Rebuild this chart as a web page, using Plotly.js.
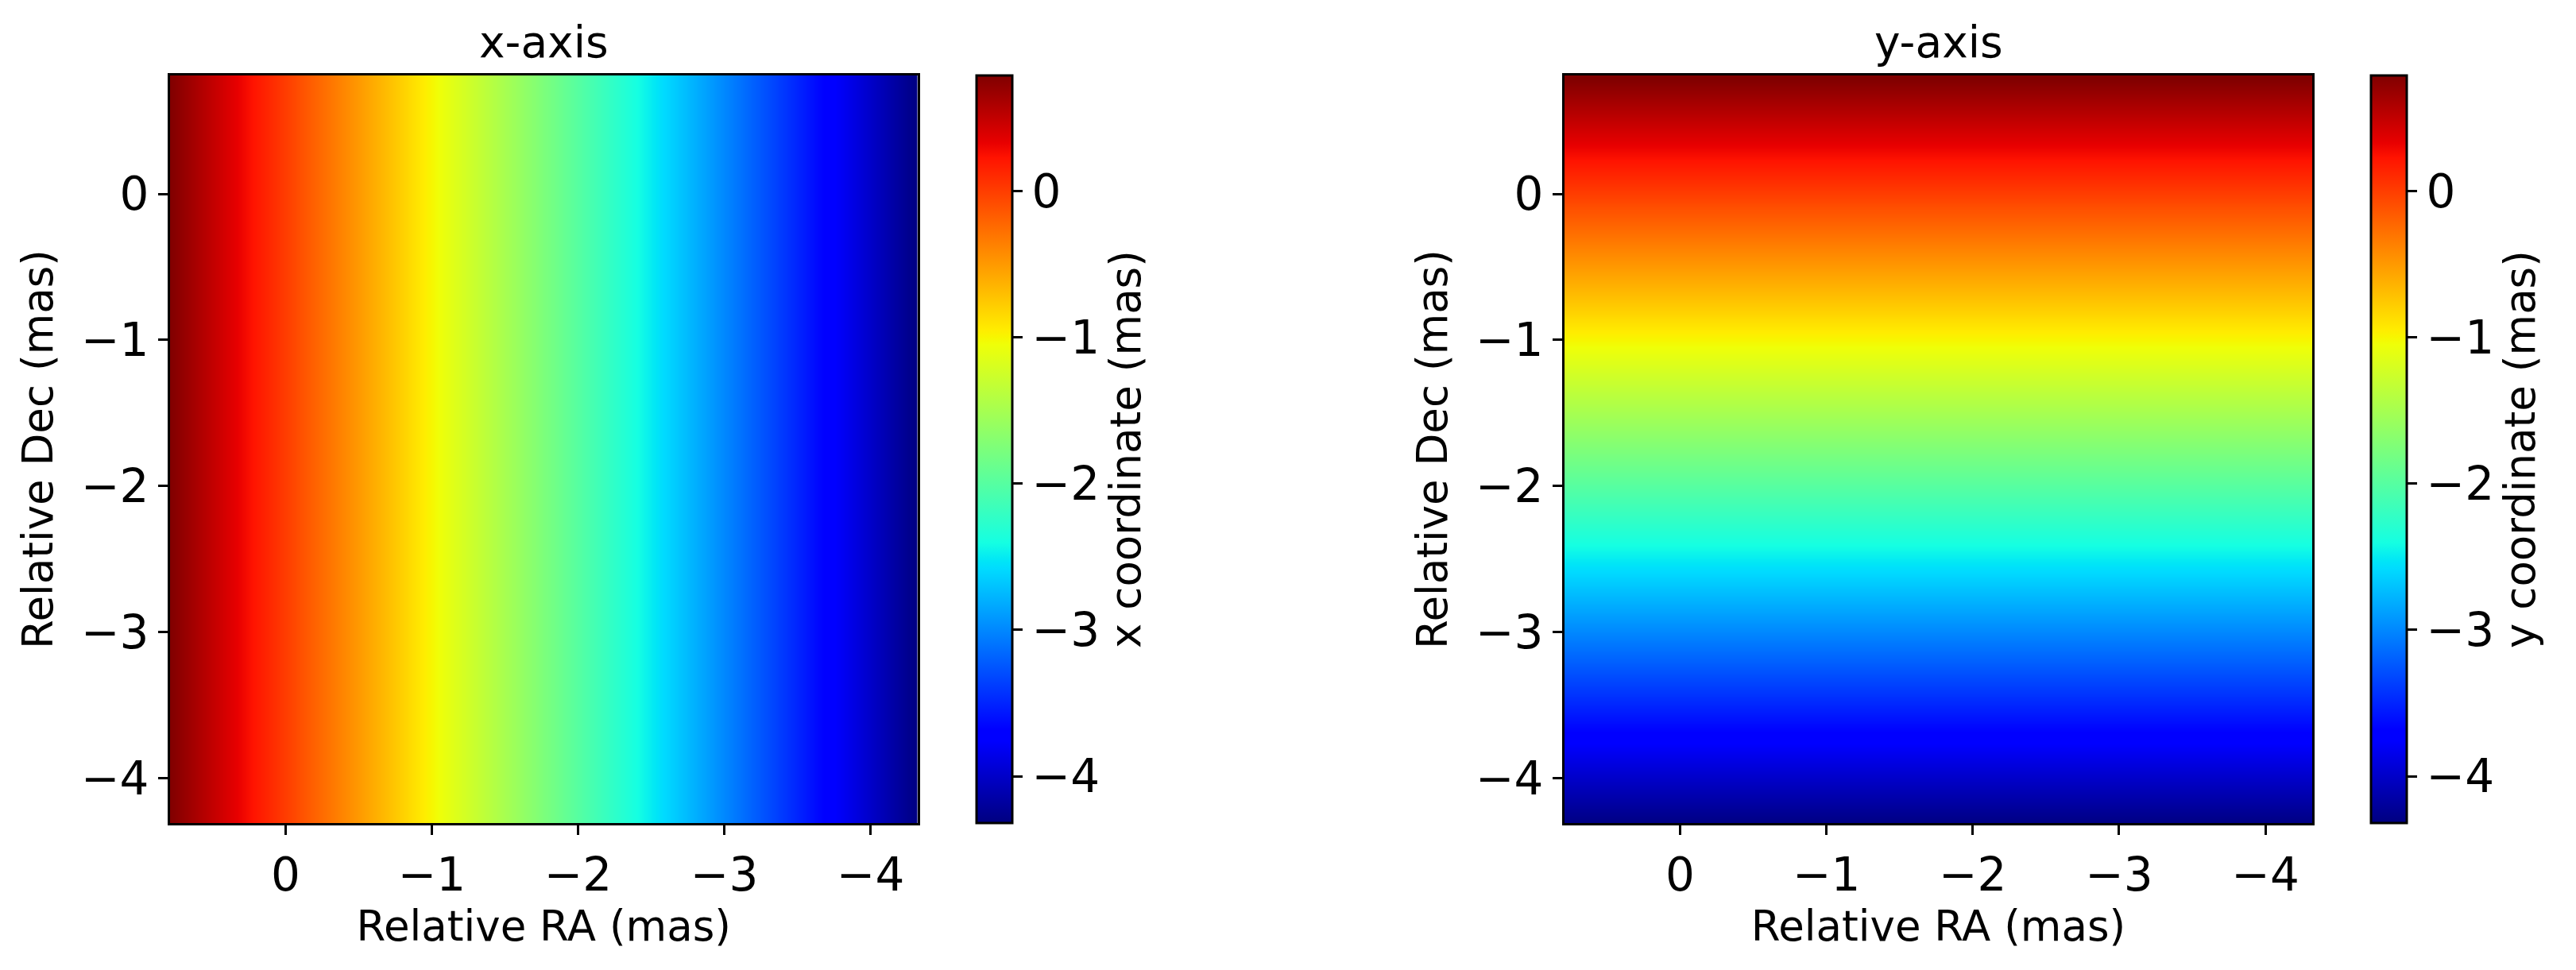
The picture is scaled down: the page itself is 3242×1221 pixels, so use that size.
<!DOCTYPE html>
<html>
<head>
<meta charset="utf-8">
<script src="https://cdn.plot.ly/plotly-3.0.1.min.js"></script>
<style>html,body{margin:0;padding:0;background:#fff;}#chart{width:3242px;height:1221px;}</style>
</head>
<body>
<div id="chart"></div>
<script>
// Pixel-centre coordinates of the image grid (mas)
const raPix  = [0.8, 0.5, 0.2, -0.1, -0.4, -0.7, -1.0, -1.3, -1.6, -1.9, -2.2, -2.5, -2.8, -3.1, -3.4, -3.7, -4.0, -4.3];
const decPix = [-4.3, -4.0, -3.7, -3.4, -3.1, -2.8, -2.5, -2.2, -1.9, -1.6, -1.3, -1.0, -0.7, -0.4, -0.1, 0.2, 0.5, 0.8];
const panelTitles = ['x-axis', 'y-axis'];
const cbarTitles = ['x coordinate (mas)', 'y coordinate (mas)'];
const xTitle = 'Relative RA (mas)';
const yTitle = 'Relative Dec (mas)';
const tickVals = [0, -1, -2, -3, -4];

// x-coordinate map and y-coordinate map built from the grid coordinates
const zX = decPix.map(() => raPix.slice());
const zY = decPix.map(d => raPix.map(() => d));

// matplotlib "jet" colormap
const jet = {
  r: [[0,0],[0.35,0],[0.66,1],[0.89,1],[1,0.5]],
  g: [[0,0],[0.125,0],[0.375,1],[0.64,1],[0.91,0],[1,0]],
  b: [[0,0.5],[0.11,1],[0.34,1],[0.65,0],[1,0]]
};
function chan(seg, t) {
  for (let i = 1; i < seg.length; i++) {
    if (t <= seg[i][0]) {
      const [t0, v0] = seg[i-1], [t1, v1] = seg[i];
      return v0 + (v1 - v0) * (t - t0) / (t1 - t0);
    }
  }
  return seg[seg.length-1][1];
}
const stops = [0,0.11,0.125,0.34,0.35,0.375,0.64,0.65,0.66,0.89,0.91,1];
const jetScale = stops.map(t => [t, 'rgb(' + [jet.r, jet.g, jet.b].map(s => Math.round(255 * chan(s, t))).join(',') + ')']);

const W = 3242, H = 1221;
const mL = 214, mR = 212, mT = 95, mB = 185;
const PW = W - mL - mR;
const font = 'DejaVu Sans';
const zmin = -4.32, zmax = 0.79;

function cbar(xpx, title) {
  return {
    x: (xpx - mL) / PW, xanchor: 'left', xpad: 0,
    y: 0, yanchor: 'bottom', len: 1, lenmode: 'fraction', ypad: 0,
    thickness: 45, thicknessmode: 'pixels',
    outlinewidth: 3, outlinecolor: '#000',
    ticks: 'outside', ticklen: 12, tickwidth: 3, tickcolor: '#000',
    tickmode: 'array', tickvals: tickVals,
    tickfont: {family: font, size: 58, color: '#000'},
    title: {text: title, side: 'right', font: {family: font, size: 53, color: '#000'}}
  };
}

const traces = [
  {type: 'heatmap', x: raPix, y: decPix, z: zX, xaxis: 'x', yaxis: 'y',
   colorscale: jetScale, zmin: zmin, zmax: zmax, zsmooth: 'best', hoverinfo: 'skip',
   colorbar: cbar(1228.5, cbarTitles[0])},
  {type: 'heatmap', x: raPix, y: decPix, z: zY, xaxis: 'x2', yaxis: 'y2',
   colorscale: jetScale, zmin: zmin, zmax: zmax, zsmooth: 'best', hoverinfo: 'skip',
   colorbar: cbar(2983.5, cbarTitles[1])}
];

function xa(d) {
  return {
    domain: d, range: [0.79, -4.32], autorange: false,
    showline: true, mirror: true, linewidth: 3, linecolor: '#000',
    ticks: 'outside', ticklen: 12, tickwidth: 3, tickcolor: '#000',
    tickmode: 'array', tickvals: tickVals,
    tickfont: {family: font, size: 58, color: '#000'},
    showgrid: false, zeroline: false,
    title: {text: xTitle, font: {family: font, size: 53, color: '#000'}, standoff: 10}
  };
}
function ya(anchor) {
  return {
    domain: [0, 1], range: [-4.305, 0.81], autorange: false, anchor: anchor,
    showline: true, mirror: true, linewidth: 3, linecolor: '#000',
    ticks: 'outside', ticklen: 12, tickwidth: 3, tickcolor: '#000',
    tickmode: 'array', tickvals: tickVals,
    tickfont: {family: font, size: 58, color: '#000'},
    showgrid: false, zeroline: false,
    title: {text: yTitle, font: {family: font, size: 53, color: '#000'}, standoff: 19}
  };
}

const d1 = [0, 940.5 / PW];
const d2 = [(1969 - mL) / PW, (2910 - mL) / PW];

const layout = {
  width: W, height: H,
  margin: {l: mL, r: mR, t: mT, b: mB, pad: 0},
  paper_bgcolor: '#fff', plot_bgcolor: '#fff',
  font: {family: font, color: '#000'},
  showlegend: false,
  xaxis: Object.assign(xa(d1), {anchor: 'y'}),
  yaxis: ya('x'),
  xaxis2: Object.assign(xa(d2), {anchor: 'y2'}),
  yaxis2: ya('x2'),
  annotations: [
    {text: panelTitles[0], xref: 'paper', yref: 'paper', x: (d1[0] + d1[1]) / 2, y: 1,
     xanchor: 'center', yanchor: 'bottom', yshift: 8, showarrow: false,
     font: {family: font, size: 55, color: '#000'}},
    {text: panelTitles[1], xref: 'paper', yref: 'paper', x: (d2[0] + d2[1]) / 2, y: 1,
     xanchor: 'center', yanchor: 'bottom', yshift: 8, showarrow: false,
     font: {family: font, size: 55, color: '#000'}}
  ]
};

Plotly.newPlot('chart', traces, layout, {displayModeBar: false, staticPlot: true});
</script>
</body>
</html>
